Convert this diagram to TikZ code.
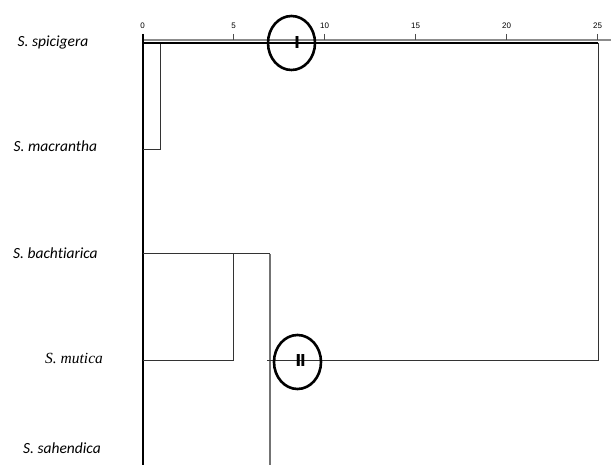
\documentclass[tikz,border=0pt]{standalone}
\usepackage{fontspec}
\usetikzlibrary{shapes.geometric}
\setmainfont{Liberation Serif}
\newfontfamily\calib[Ligatures=NoCommon]{Carlito}
\newfontfamily\arialf{Liberation Sans}
\newfontfamily\arialbold[FakeBold=1.5]{Liberation Sans Bold}
\begin{document}
\begin{tikzpicture}[x=1pt,y=-1pt,
  thickln/.style={line width=2pt,black},
  thinln/.style={line width=1pt,black!80},
  greyln/.style={line width=1.4pt,black!55},
  axisln/.style={line width=1.2pt,black!45},
  tickln/.style={line width=1pt,black!70},
  ticklab/.style={font=\arialf\fontsize{8}{9}\selectfont,anchor=base,inner sep=0pt},
  taxon/.style={font=\calib\itshape\fontsize{15.5}{17}\selectfont,anchor=base west,inner sep=0pt},
  ring/.style={ellipse,draw,line width=2.6pt,minimum width=47pt,minimum height=54pt,inner sep=0pt},
  ringlab/.style={font=\arialbold\fontsize{17}{17}\selectfont,inner sep=0pt}]
\useasboundingbox (0,0) rectangle (611,465);
% axis
\coordinate (ax0) at (142.5,40);
\coordinate (axend) at (611,40);
\draw[axisln] (ax0) -- (axend);
\foreach \v/\x in {0/142.5,5/233.5,10/324.5,15/415.5,20/506.5,25/597.5}{
  \coordinate (t\v) at (\x,34);
  \draw[tickln] (t\v) -- (\x,40);
  \node[ticklab] (l\v) at (\x,29) {\v};
}
% leaf points
\coordinate (spi) at (142.5,43);
\coordinate (mac) at (142.5,150);
\coordinate (bac) at (142.5,254);
\coordinate (mut) at (142.5,360);
\coordinate (sah) at (142.5,465);
\coordinate (top) at (142.5,34);
% main vertical
\draw[line width=2pt,black] (top) -- (sah);
% spicigera + macrantha
\coordinate (j1t) at (160,43);
\coordinate (j1b) at (160,150);
\draw[thinln] (mac) -- (j1b) -- (j1t);
% cluster I top line
\coordinate (r25) at (598,43);
\draw[thickln] (spi) -- (r25);
% bachtiarica + mutica
\coordinate (j2t) at (233.5,254);
\coordinate (j2b) at (233.5,360);
\coordinate (j3t) at (270,254);
\coordinate (j3b) at (270,465);
\draw[thinln] (bac) -- (j3t);
\draw[thinln] (j2t) -- (j2b) -- (mut);
\draw[greyln] (j3t) -- (j3b);
% cluster II line
\coordinate (c2l) at (267,360);
\coordinate (c2r) at (598,360);
\draw[thinln] (c2l) -- (c2r) -- (r25);
% rings
\node[ring] (ringI) at (291.5,43) {};
\node[ringlab] (labI) at (297,42) {I};
\node[ring] (ringII) at (297.5,362) {};
\node[ringlab] (labII) at (300.5,360) {II};
% taxa
\node[taxon] (n1) at (17.5,47) {S. spicigera};
\node[taxon] (n2) at (13.5,151.5) {S. macrantha};
\node[taxon] (n3) at (13,259) {S. bacht\kern0pt iarica};
\node[font=\itshape\fontsize{15.5}{17}\selectfont,anchor=base west,inner sep=0pt] (n4) at (45,363.3) {S. mutica};
\node[taxon] (n5) at (23,453) {S. sahendica};
\end{tikzpicture}
\end{document}
